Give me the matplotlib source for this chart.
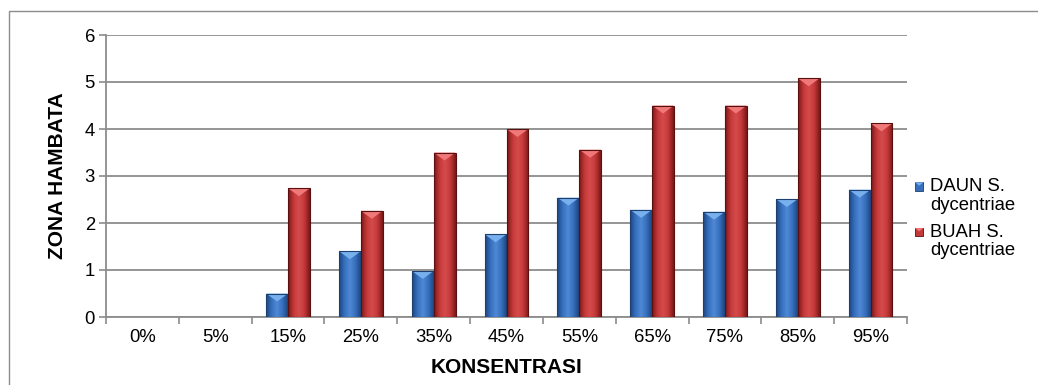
import matplotlib
matplotlib.use("Agg")
import matplotlib.pyplot as plt
import numpy as np
from matplotlib.patches import Polygon, Rectangle
from matplotlib.colors import LinearSegmentedColormap
from matplotlib.legend_handler import HandlerBase

categories = ["0%", "5%", "15%", "25%", "35%", "45%", "55%", "65%", "75%", "85%", "95%"]
daun = [0, 0, 0.50, 1.40, 0.98, 1.76, 2.54, 2.28, 2.24, 2.51, 2.71]
buah = [0, 0, 2.74, 2.26, 3.50, 4.00, 3.56, 4.50, 4.50, 5.08, 4.12]
series_names = ["DAUN S.\ndycentriae", "BUAH S.\ndycentriae"]
yticks = [0, 1, 2, 3, 4, 5, 6]

plt.rcParams['font.family'] = ['Liberation Sans', 'DejaVu Sans']

W, H = 1038, 385
fig = plt.figure(figsize=(W / 100, H / 100), dpi=100)
# outer chart border
fig.add_artist(Rectangle((8.5 / W, -0.1), 1.2, 1 - 11.5 / H + 0.1, transform=fig.transFigure,
                         fill=False, edgecolor="#8c8c8c", linewidth=1.0))

ax = fig.add_axes([106 / W, 1 - 317 / H, (907 - 106) / W, (317 - 35) / H])
x = np.arange(len(categories))
bw = 0.3

styles = [
    dict(dark="#1e4680", mid="#3670bd", light="#508ad6", tri="#78b0ee", edge="#1c3f70"),
    dict(dark="#7a1818", mid="#c43838", light="#d64c4c", tri="#f07878", edge="#5a1010"),
]

ax.set_xlim(-0.5, len(categories) - 0.5)
ax.set_ylim(0, 6)

def shade(bars, st):
    cmap = LinearSegmentedColormap.from_list("g", [st["dark"], st["mid"], st["light"], st["mid"], st["dark"]])
    grad = np.linspace(0, 1, 64).reshape(1, -1)
    for b in bars:
        h = b.get_height()
        if h <= 0:
            continue
        x0, w = b.get_x(), b.get_width()
        im = ax.imshow(grad, cmap=cmap, extent=(x0, x0 + w, 0, h), aspect="auto", zorder=3,
                       interpolation="bicubic")
        im.set_clip_path(b)
        d = min(0.17, h)
        tri = Polygon([(x0, h), (x0 + w, h), (x0 + w / 2, h - d)], closed=True,
                      facecolor=st["tri"], edgecolor="none", zorder=4)
        ax.add_patch(tri)
        ax.add_patch(Rectangle((x0, 0), w, h, fill=False, edgecolor=st["edge"], linewidth=0.8, zorder=5))

handles = []
for vals, off, st, name in zip([daun, buah], [-bw / 2, bw / 2], styles, series_names):
    bars = ax.bar(x + off, vals, bw, color=st["mid"], edgecolor="none", zorder=2, label=name)
    shade(bars, st)
    handles.append(bars)


class TopSquare(HandlerBase):
    def __init__(self, st):
        super().__init__()
        self.st = st

    def create_artists(self, legend, orig_handle, xdescent, ydescent, width, height, fontsize, trans):
        s = 6.0
        y0 = height / 2 + 7.2
        r = Rectangle((-xdescent, y0 - s / 2), s, s, facecolor=self.st["mid"],
                      edgecolor=self.st["edge"], linewidth=0.6, transform=trans)
        t = Polygon([(-xdescent, y0 + s / 2), (-xdescent + s, y0 + s / 2), (-xdescent + s / 2, y0 + s / 2 - 2.5)],
                    closed=True, facecolor=self.st["tri"], edgecolor="none", transform=trans)
        return [r, t]


ax.set_yticks(yticks)
ax.set_yticklabels([str(v) for v in yticks], fontsize=13.3)
ax.set_xticks(x)
ax.set_xticklabels(categories, fontsize=13.3)
ax.set_xticks(np.arange(-0.5, len(categories), 1), minor=True)
ax.tick_params(axis="x", which="major", length=0, pad=9)
ax.tick_params(axis="x", which="minor", length=5, color="#8c8c8c", width=1.2, direction="out")
ax.tick_params(axis="y", length=5, color="#8c8c8c", width=1.2, pad=3)
ax.grid(axis="y", color="#8c8c8c", linewidth=1.3, zorder=0)
ax.set_axisbelow(True)
for s in ["top", "right"]:
    ax.spines[s].set_visible(False)
for s in ["left", "bottom"]:
    ax.spines[s].set_color("#8c8c8c")
    ax.spines[s].set_linewidth(1.3)

ax.set_xlabel("KONSENTRASI", fontsize=15, fontweight="bold", va="top")
ax.xaxis.set_label_coords(0.5, -0.147)
ax.set_ylabel("ZONA HAMBATA", fontsize=15, fontweight="bold")
ax.yaxis.set_label_coords(-0.0487, 0.5)

leg = fig.legend(handles=handles, labels=series_names, loc="upper left",
                 bbox_to_anchor=(915 / W, 1 - 178 / H), frameon=False, fontsize=13.3,
                 handlelength=0.6, handleheight=0.6, handletextpad=0.2,
                 labelspacing=0.55, borderpad=0, borderaxespad=0,
                 handler_map={handles[0]: TopSquare(styles[0]), handles[1]: TopSquare(styles[1])})
for t in leg.get_texts():
    t.set_linespacing(1.12)

fig.savefig("out.png", dpi=100)
